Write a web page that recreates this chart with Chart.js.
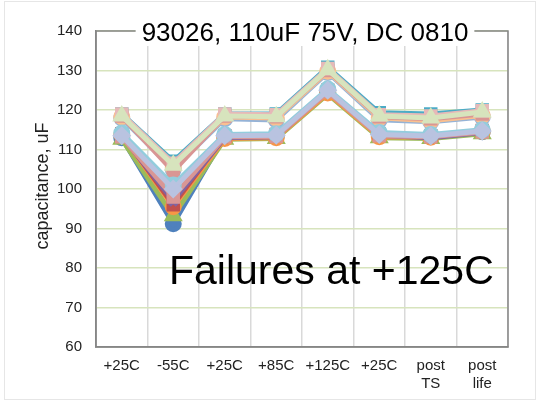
<!DOCTYPE html>
<html>
<head>
<meta charset="utf-8">
<script src="https://cdn.jsdelivr.net/npm/chart.js@4"></script>
<style>
body{margin:0;background:#fff;}
#wrap{width:538px;height:401px;}
</style>
</head>
<body>
<div id="wrap"><canvas id="capChart" width="538" height="401"></canvas></div>
<script>

/* DATA */

const categories=["+25C","-55C","+25C","+85C","+125C","+25C",["post","TS"],["post","life"]];
const yTicks=[60,70,80,90,100,110,120,130,140];

// lower group
const blueCircle=[113.0,91.2,113.5,113.5,124.5,113.8,113.3,114.5];
const greenTriangle=[112.6,93.2,112.6,112.8,124.0,113.0,112.8,114.0];
const orangeLow=[113.8,95.5,112.8,113.0,124.3,113.2,113.1,114.6];
const redSquare=[114.0,96.0,113.5,113.8,125.0,114.0,113.5,114.8];
const purpleX=[113.5,97.0,113.0,113.2,124.8,113.6,113.0,114.3];
const roseLow=[113.2,98.0,113.2,113.3,124.6,113.5,113.2,114.4];
const aquaLow=[114.2,101.0,113.8,114.0,125.3,114.3,113.8,115.0];
const lavenderDiamond=[113.5,100.0,113.5,113.6,125.0,113.8,113.4,114.7];

// upper group
const aquaHigh=[119.0,107.0,119.0,119.0,130.8,119.3,119.0,120.0];
const blueHigh=[118.0,105.0,117.8,117.5,129.5,117.5,117.0,118.2];
const orangeHigh=[118.3,105.5,118.2,118.0,129.8,118.0,117.3,118.6];
const roseHigh=[118.5,104.5,118.5,118.3,130.0,118.3,117.8,119.0];
const pinkSquare=[119.0,106.5,119.0,118.8,130.5,118.8,118.5,119.8];
const greenTriHigh=[118.5,106.0,118.5,118.3,130.2,118.5,118.0,119.5];

/* STYLE (draw order: first = bottom) */

const series=[
{v:blueCircle,c:"#4F81BD",p:"circle"},
{v:greenTriangle,c:"#9BBB59",p:"triangle"},
{v:orangeLow,c:"#F79646",p:"circle"},
{v:redSquare,c:"#C0504D",p:"rect"},
{v:purpleX,c:"#8064A2",p:"crossRot"},
{v:roseLow,c:"#D99694",p:"rect"},
{v:aquaHigh,c:"#4BACC6",p:"rect"},
{v:blueHigh,c:"#95B3D7",p:"circle"},
{v:orangeHigh,c:"#FAC090",p:"circle"},
{v:roseHigh,c:"#D99694",p:"rect"},
{v:aquaLow,c:"#93CDDD",p:"circle"},
{v:pinkSquare,c:"#E6B9B8",p:"rect"},
{v:greenTriHigh,c:"#D7E4BD",p:"triangle"},
{v:lavenderDiamond,c:"#B9C3E0",p:"rectRot"}
];

const datasets=series.map((s,i)=>({
label:"s"+(i+1),
data:s.v,
borderColor:s.c,
backgroundColor:s.c,
pointBackgroundColor:s.c,
pointBorderColor:s.c,
pointStyle:s.p,
pointRadius:6,
borderWidth:5,
tension:0
})).reverse(); // chart.js draws dataset 0 on top


/* PLUGIN: frame, title, axis title, note */

const FONT="'Liberation Sans', Arial, sans-serif";

const extras={
id:"extras",
beforeDatasetsDraw(chart){
const a=chart.chartArea,ctx=chart.ctx;
ctx.save();
ctx.strokeStyle="#868686";
ctx.lineWidth=1.5;
ctx.strokeRect(a.left,a.top,a.right-a.left,a.bottom-a.top);
ctx.restore();
},
afterDraw(chart){
const ctx=chart.ctx;
ctx.save();
ctx.strokeStyle="#E6E6E6";
ctx.lineWidth=1;
ctx.strokeRect(4.5,1.5,531,398);

// chart title over the top frame line
ctx.font="26px "+FONT;
const t="93026, 110uF 75V, DC 0810";
const w=ctx.measureText(t).width;
const cx=305;
ctx.fillStyle="#fff";
ctx.fillRect(cx-w/2-6,16,w+12,30);
ctx.fillStyle="#000";
ctx.textAlign="center";
ctx.textBaseline="alphabetic";
ctx.fillText(t,cx,41);

// y axis title
ctx.save();
ctx.translate(43,186);
ctx.rotate(-Math.PI/2);
ctx.font="18px "+FONT;
ctx.textBaseline="middle";
ctx.fillStyle="#222";
ctx.fillText("capacitance, uF",0,0);
ctx.restore();

// note
ctx.font="41px "+FONT;
ctx.textAlign="left";
ctx.fillStyle="#000";
ctx.fillText("Failures at +125C",169,284);
ctx.restore();
}
};


/* CHART */

new Chart(document.getElementById("capChart"),{

type:"line",

data:{
labels:categories,
datasets:datasets
},

options:{
responsive:false,
animation:false,
devicePixelRatio:1,
layout:{padding:{top:31,right:30,left:0,bottom:0}},
plugins:{legend:{display:false},tooltip:{enabled:false}},
scales:{
x:{
offset:true,
grid:{offset:true,color:"#D9D9D9",lineWidth:1.5,drawTicks:false},
border:{color:"#868686",width:1.5},
ticks:{color:"#222",padding:10,maxRotation:0,font:{family:FONT,size:15}},
afterFit(s){s.height=54;}
},
y:{
min:60,
max:140,
afterBuildTicks(s){s.ticks=yTicks.map(v=>({value:v}));},
grid:{color:"#D7E4BD",lineWidth:1.5,drawTicks:false},
border:{color:"#868686",width:1.5},
ticks:{color:"#222",padding:14,font:{family:FONT,size:15}},
afterFit(s){s.width=96;}
}
}
},

plugins:[extras]

});

</script>
</body>
</html>
